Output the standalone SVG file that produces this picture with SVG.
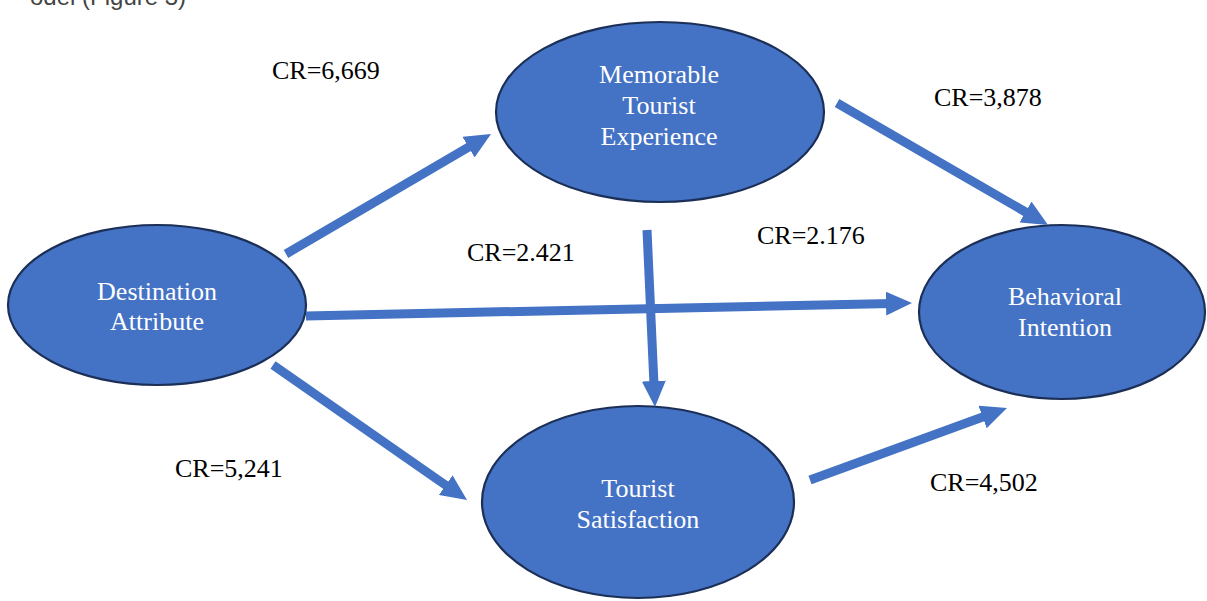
<svg xmlns="http://www.w3.org/2000/svg" width="1207" height="601" viewBox="0 0 1207 601">
<style>
.node{fill:#4472C4;stroke:#1B2F57;stroke-width:2.2}
.nt{fill:#ffffff;font-family:"Liberation Serif","Times New Roman",serif;font-size:26px;text-anchor:middle}
.lbl{fill:#000000;font-family:"Liberation Serif","Times New Roman",serif;font-size:26px}
.edge{stroke:#4472C4;stroke-width:9;fill:none;marker-end:url(#ah)}
.cap{fill:#444444;font-family:"Liberation Sans",Arial,sans-serif;font-size:24px}
</style>
<defs>
<marker id="ah" viewBox="0 0 26 24" refX="6" refY="12" markerWidth="26" markerHeight="24" markerUnits="userSpaceOnUse" orient="auto">
<path d="M0,0 L26,12 L0,24 Z" fill="#4472C4"/>
</marker>
</defs>
<rect width="1207" height="601" fill="#ffffff"/>
<text class="cap" x="30" y="5">odel (Figure 3)</text>
<g id="destination-attribute">
<ellipse class="node" cx="157" cy="305" rx="149" ry="80"/>
<text class="nt" x="157" y="300">Destination</text>
<text class="nt" x="157" y="330">Attribute</text>
</g>
<g id="memorable-tourist-experience">
<ellipse class="node" cx="660" cy="112" rx="164" ry="90"/>
<text class="nt" x="659" y="83">Memorable</text>
<text class="nt" x="659" y="114">Tourist</text>
<text class="nt" x="659" y="145">Experience</text>
</g>
<g id="behavioral-intention">
<ellipse class="node" cx="1062" cy="312" rx="143" ry="87"/>
<text class="nt" x="1065" y="305">Behavioral</text>
<text class="nt" x="1065" y="336">Intention</text>
</g>
<g id="tourist-satisfaction">
<ellipse class="node" cx="638" cy="502" rx="156" ry="96"/>
<text class="nt" x="638" y="497">Tourist</text>
<text class="nt" x="638" y="528">Satisfaction</text>
</g>
<g id="connectors">
<line class="edge" x1="286" y1="254" x2="473.7" y2="144.1"/>
<line class="edge" x1="837" y1="103" x2="1030.7" y2="215"/>
<line class="edge" x1="306" y1="316" x2="892" y2="303.4"/>
<line class="edge" x1="647" y1="230" x2="654.1" y2="387"/>
<line class="edge" x1="273" y1="365" x2="450.6" y2="488.6"/>
<line class="edge" x1="810" y1="480" x2="988.2" y2="414.9"/>
</g>
<g id="labels">
<text class="lbl" x="272" y="79">CR=6,669</text>
<text class="lbl" x="934" y="106">CR=3,878</text>
<text class="lbl" x="467" y="261">CR=2.421</text>
<text class="lbl" x="757" y="244">CR=2.176</text>
<text class="lbl" x="175" y="477">CR=5,241</text>
<text class="lbl" x="930" y="491">CR=4,502</text>
</g>
</svg>
